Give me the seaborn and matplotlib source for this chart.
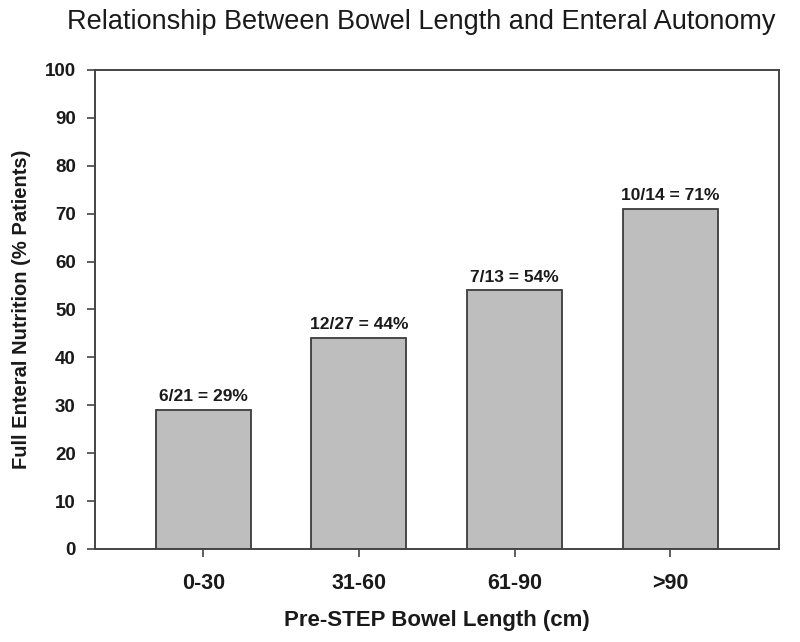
import matplotlib
matplotlib.use("Agg")
import matplotlib.pyplot as plt
import pandas as pd
import seaborn as sns

groups = ["0-30", "31-60", "61-90", ">90"]
percent = [29, 44, 54, 71]
bar_labels = ["6/21 = 29%", "12/27 = 44%", "7/13 = 54%", "10/14 = 71%"]

sns.set_style("white")
plt.rcParams["font.family"] = ["Liberation Sans", "DejaVu Sans"]

df = pd.DataFrame({"group": groups, "percent": percent})

fig = plt.figure(figsize=(8, 6.42), dpi=100)
ax = fig.add_axes([0.119, 0.145, 0.855, 0.746])

sns.barplot(
    data=df,
    x="group",
    y="percent",
    color="#bebebe",
    saturation=1,
    width=0.61,
    edgecolor="#3c3c3c",
    linewidth=1.3,
    ax=ax,
)

for i, (v, lab) in enumerate(zip(percent, bar_labels)):
    ax.text(i, v + 1.2, lab, ha="center", va="bottom", fontsize=12.5, fontweight="bold", color="#1a1a1a")

ax.set_xlim(-0.694, 3.70)
ax.set_ylim(0, 100)
ax.set_yticks(range(0, 101, 10))
for s in ax.spines.values():
    s.set_visible(True)
    s.set_color("#444444")
    s.set_linewidth(1.4)
ax.tick_params(axis="both", direction="out", length=6, width=1.2, color="#444444",
               labelcolor="#1a1a1a")
ax.tick_params(axis="y", labelsize=13.5, pad=8)
ax.tick_params(axis="x", labelsize=15.5, pad=11)
ax.tick_params(left=True, bottom=True)
for t in ax.get_xticklabels() + ax.get_yticklabels():
    t.set_fontweight("bold")

ax.set_xlabel("Pre-STEP Bowel Length (cm)", fontsize=16, fontweight="bold", labelpad=12, color="#1a1a1a")
ax.set_ylabel("Full Enteral Nutrition (% Patients)", fontsize=14.5, fontweight="bold", labelpad=10, color="#1a1a1a")
fig.text(0.526, 0.965, "Relationship Between Bowel Length and Enteral Autonomy",
         ha="center", va="center", fontsize=19.5, color="#1a1a1a")

fig.savefig("out.png", dpi=100)
